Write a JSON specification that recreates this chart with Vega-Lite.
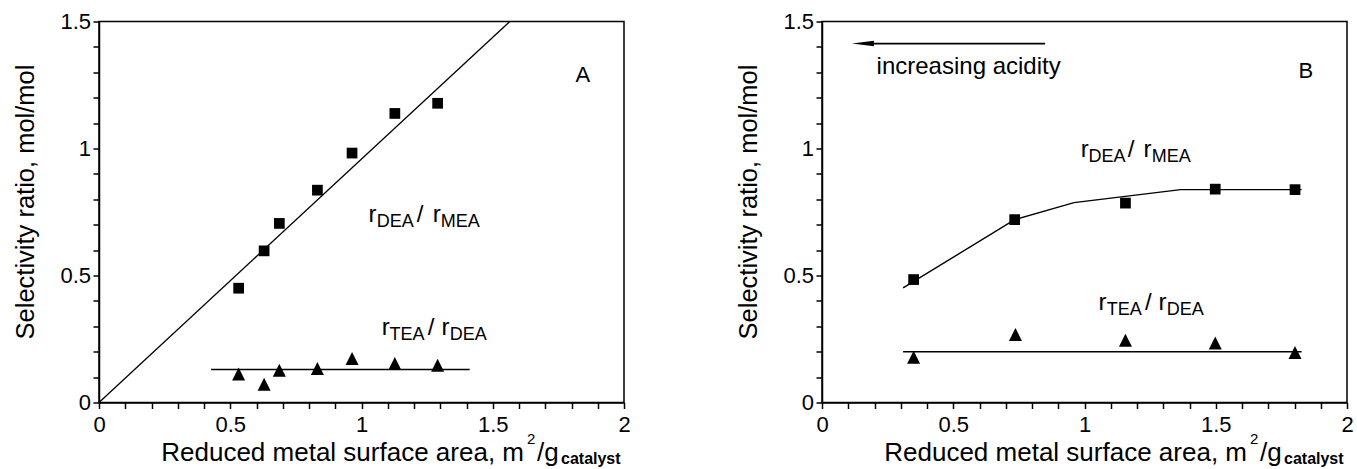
{
  "$schema": "https://vega.github.io/schema/vega-lite/v6.json",
  "background": "white",
  "padding": {"left": 13, "top": 9.5, "right": 0, "bottom": 0},
  "bounds": "flush",
  "spacing": 198,
  "config": {
    "font": "Liberation Sans",
    "view": {"stroke": "black", "strokeWidth": 1.5},
    "axis": {
      "domainColor": "black", "domainWidth": 1.5,
      "labelColor": "black", "labelFontSize": 22, "labelFont": "Liberation Sans",
      "titleColor": "black", "titleFontSize": 25.5, "titleFontWeight": "normal", "titleFont": "Liberation Sans",
      "labelFlush": false, "labelOverlap": false, "grid": false
    },
    "text": {"font": "Liberation Sans", "color": "black"}
  },
  "datasets": {
    "squaresA": [{"x":0.532,"y":0.450},{"x":0.629,"y":0.597},{"x":0.687,"y":0.705},{"x":0.832,"y":0.836},{"x":0.964,"y":0.982},{"x":1.127,"y":1.138},{"x":1.29,"y":1.178}],
    "trianglesA": [{"x":0.532,"y":0.112},{"x":0.629,"y":0.072},{"x":0.687,"y":0.127},{"x":0.832,"y":0.134},{"x":0.964,"y":0.173},{"x":1.127,"y":0.154},{"x":1.29,"y":0.147}],
    "fitA1": [{"x":0,"y":0},{"x":1.565,"y":1.5}],
    "fitA2": [{"x":0.427,"y":0.13},{"x":1.412,"y":0.13}],
    "squaresB": [{"x":0.349,"y":0.484},{"x":0.734,"y":0.72},{"x":1.156,"y":0.785},{"x":1.498,"y":0.84},{"x":1.802,"y":0.838}],
    "trianglesB": [{"x":0.349,"y":0.178},{"x":0.737,"y":0.268},{"x":1.156,"y":0.245},{"x":1.498,"y":0.234},{"x":1.802,"y":0.197}],
    "fitB1": [{"x":0.309,"y":0.451},{"x":0.734,"y":0.72},{"x":0.96,"y":0.787},{"x":1.366,"y":0.838},{"x":1.827,"y":0.838}],
    "fitB2": [{"x":0.309,"y":0.2},{"x":1.827,"y":0.2}],
    "arrowB": [{"x":0.16,"x2":0.85,"y":1.413}],
    "arrowHeadB": [{"x":0.156,"y":1.413}],
    "mainA": [{"x":1.027,"y":0.71,"t":"r"},{"x":1.21,"y":0.71,"t":"/"},{"x":1.271,"y":0.71,"t":"r"},{"x":1.077,"y":0.265,"t":"r"},{"x":1.252,"y":0.265,"t":"/"},{"x":1.305,"y":0.265,"t":"r"}],
    "subA": [{"x":1.058,"y":0.69,"t":"DEA"},{"x":1.302,"y":0.69,"t":"MEA"},{"x":1.107,"y":0.245,"t":"TEA"},{"x":1.336,"y":0.245,"t":"DEA"}],
    "mainB": [{"x":0.986,"y":0.965,"t":"r"},{"x":1.165,"y":0.965,"t":"/"},{"x":1.225,"y":0.965,"t":"r"},{"x":1.053,"y":0.365,"t":"r"},{"x":1.23,"y":0.365,"t":"/"},{"x":1.282,"y":0.365,"t":"r"}],
    "subB": [{"x":1.015,"y":0.945,"t":"DEA"},{"x":1.256,"y":0.945,"t":"MEA"},{"x":1.085,"y":0.345,"t":"TEA"},{"x":1.313,"y":0.345,"t":"DEA"}],
    "letterA": [{"x":1.815,"y":1.263,"t":"A"}],
    "letterB": [{"x":1.815,"y":1.277,"t":"B"}],
    "noteB": [{"x":0.208,"y":1.293,"t":"increasing acidity"}],
    "xtitleMain": [{"x":1.619,"y":-0.231,"t":"Reduced metal surface area, m"}],
    "xtitleSup": [{"x":1.63,"y":-0.163,"t":"2"}],
    "xtitleSlash": [{"x":1.669,"y":-0.231,"t":"/g"}],
    "xtitleSub": [{"x":1.76,"y":-0.243,"t":"catalyst"}]
  },
  "hconcat": [
    {
      "width": 525, "height": 381,
      "encoding": {
        "x": {"field": "x", "type": "quantitative", "scale": {"domain": [0, 2], "nice": false, "zero": false},
              "axis": {"title": null, "ticks": true, "tickSize": 6, "tickWidth": 1.5, "tickColor": "#000000", "tickOpacity": 1, "tickCount": 21, "values": [0,0.1,0.2,0.3,0.4,0.5,0.6,0.7,0.8,0.9,1,1.1,1.2,1.3,1.4,1.5,1.6,1.7,1.8,1.9,2], "format": "~g", "labelExpr": "round(datum.value*10) % 5 == 0 ? datum.label : ''", "labelPadding": 5.5}},
        "y": {"field": "y", "type": "quantitative", "scale": {"domain": [0, 1.5], "nice": false, "zero": false},
              "axis": {"title": "Selectivity ratio, mol/mol", "ticks": true, "tickSize": 6, "tickWidth": 1.5, "tickColor": "#000000", "tickOpacity": 1, "tickCount": 16, "titlePadding": 21, "titleY": 180, "values": [0,0.1,0.2,0.3,0.4,0.5,0.6,0.7,0.8,0.9,1,1.1,1.2,1.3,1.4,1.5], "format": "~g", "labelExpr": "round(datum.value*10) % 5 == 0 ? datum.label : ''", "labelPadding": 2.5}}
      },
      "layer": [
        {"data": {"name": "fitA1"}, "mark": {"type": "line", "color": "black", "strokeWidth": 1.3}},
        {"data": {"name": "fitA2"}, "mark": {"type": "line", "color": "black", "strokeWidth": 1.6}},
        {"data": {"name": "squaresA"}, "mark": {"type": "point", "shape": "square", "filled": true, "size": 115, "color": "black", "opacity": 1}},
        {"data": {"name": "trianglesA"}, "mark": {"type": "point", "shape": "M-1,1L1,1L0,-1Z", "filled": true, "size": 169, "color": "black", "opacity": 1}},
        {"data": {"name": "mainA"}, "mark": {"type": "text", "align": "left", "baseline": "alphabetic", "fontSize": 24}, "encoding": {"text": {"field": "t"}}},
        {"data": {"name": "subA"}, "mark": {"type": "text", "align": "left", "baseline": "alphabetic", "fontSize": 18}, "encoding": {"text": {"field": "t"}}},
        {"data": {"name": "letterA"}, "mark": {"type": "text", "align": "left", "baseline": "alphabetic", "fontSize": 22}, "encoding": {"text": {"field": "t"}}},
        {"data": {"name": "xtitleMain"}, "mark": {"type": "text", "align": "right", "baseline": "alphabetic", "fontSize": 26}, "encoding": {"text": {"field": "t"}}},
        {"data": {"name": "xtitleSup"}, "mark": {"type": "text", "align": "left", "baseline": "alphabetic", "fontSize": 15}, "encoding": {"text": {"field": "t"}}},
        {"data": {"name": "xtitleSlash"}, "mark": {"type": "text", "align": "left", "baseline": "alphabetic", "fontSize": 26}, "encoding": {"text": {"field": "t"}}},
        {"data": {"name": "xtitleSub"}, "mark": {"type": "text", "align": "left", "baseline": "alphabetic", "fontSize": 16, "fontWeight": "bold"}, "encoding": {"text": {"field": "t"}}}
      ]
    },
    {
      "width": 525, "height": 381,
      "encoding": {
        "x": {"field": "x", "type": "quantitative", "scale": {"domain": [0, 2], "nice": false, "zero": false},
              "axis": {"title": null, "ticks": true, "tickSize": 6, "tickWidth": 1.5, "tickColor": "#000000", "tickOpacity": 1, "tickCount": 21, "values": [0,0.1,0.2,0.3,0.4,0.5,0.6,0.7,0.8,0.9,1,1.1,1.2,1.3,1.4,1.5,1.6,1.7,1.8,1.9,2], "format": "~g", "labelExpr": "round(datum.value*10) % 5 == 0 ? datum.label : ''", "labelPadding": 5.5}},
        "y": {"field": "y", "type": "quantitative", "scale": {"domain": [0, 1.5], "nice": false, "zero": false},
              "axis": {"title": "Selectivity ratio, mol/mol", "ticks": true, "tickSize": 6, "tickWidth": 1.5, "tickColor": "#000000", "tickOpacity": 1, "tickCount": 16, "titlePadding": 21, "titleY": 180, "values": [0,0.1,0.2,0.3,0.4,0.5,0.6,0.7,0.8,0.9,1,1.1,1.2,1.3,1.4,1.5], "format": "~g", "labelExpr": "round(datum.value*10) % 5 == 0 ? datum.label : ''", "labelPadding": 2.5}}
      },
      "layer": [
        {"data": {"name": "fitB1"}, "mark": {"type": "line", "color": "black", "strokeWidth": 1.4}},
        {"data": {"name": "fitB2"}, "mark": {"type": "line", "color": "black", "strokeWidth": 1.6}},
        {"data": {"name": "squaresB"}, "mark": {"type": "point", "shape": "square", "filled": true, "size": 115, "color": "black", "opacity": 1}},
        {"data": {"name": "trianglesB"}, "mark": {"type": "point", "shape": "M-1,1L1,1L0,-1Z", "filled": true, "size": 169, "color": "black", "opacity": 1}},
        {"data": {"name": "arrowB"}, "mark": {"type": "rule", "color": "black", "strokeWidth": 1.7}, "encoding": {"x2": {"field": "x2"}}},
        {"data": {"name": "arrowHeadB"}, "mark": {"type": "point", "shape": "M-1,0L1,-0.25L1,0.25Z", "filled": true, "size": 484, "color": "black", "opacity": 1}},
        {"data": {"name": "mainB"}, "mark": {"type": "text", "align": "left", "baseline": "alphabetic", "fontSize": 24}, "encoding": {"text": {"field": "t"}}},
        {"data": {"name": "subB"}, "mark": {"type": "text", "align": "left", "baseline": "alphabetic", "fontSize": 18}, "encoding": {"text": {"field": "t"}}},
        {"data": {"name": "letterB"}, "mark": {"type": "text", "align": "left", "baseline": "alphabetic", "fontSize": 22}, "encoding": {"text": {"field": "t"}}},
        {"data": {"name": "noteB"}, "mark": {"type": "text", "align": "left", "baseline": "alphabetic", "fontSize": 24}, "encoding": {"text": {"field": "t"}}},
        {"data": {"name": "xtitleMain"}, "mark": {"type": "text", "align": "right", "baseline": "alphabetic", "fontSize": 26}, "encoding": {"text": {"field": "t"}}},
        {"data": {"name": "xtitleSup"}, "mark": {"type": "text", "align": "left", "baseline": "alphabetic", "fontSize": 15}, "encoding": {"text": {"field": "t"}}},
        {"data": {"name": "xtitleSlash"}, "mark": {"type": "text", "align": "left", "baseline": "alphabetic", "fontSize": 26}, "encoding": {"text": {"field": "t"}}},
        {"data": {"name": "xtitleSub"}, "mark": {"type": "text", "align": "left", "baseline": "alphabetic", "fontSize": 16, "fontWeight": "bold"}, "encoding": {"text": {"field": "t"}}}
      ]
    }
  ]
}
